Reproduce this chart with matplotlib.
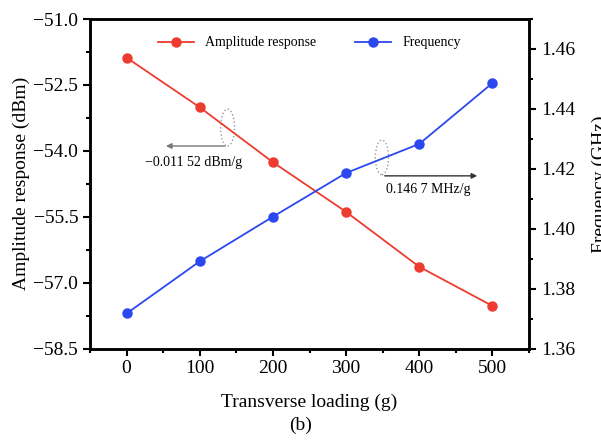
import numpy as np
import matplotlib
matplotlib.use('Agg')
import matplotlib.pyplot as plt
from matplotlib.patches import Ellipse
from matplotlib.ticker import MultipleLocator

plt.rcParams['font.family'] = ['Liberation Serif', 'DejaVu Serif']

# data
loading = [0, 100, 200, 300, 400, 500]
amplitude = [-51.88, -53.01, -54.26, -55.39, -56.64, -57.53]
frequency = [1.3717, 1.3891, 1.4040, 1.4186, 1.4283, 1.4486]

red = '#EE3B30'
blue = '#2B48EE'

fig = plt.figure(figsize=(6.01, 4.41), dpi=100)
ax = fig.add_axes([0.1498, 0.2097, 0.7304, 0.7472])
ax2 = ax.twinx()

l1, = ax.plot(loading, amplitude, '-o', color=red, lw=1.3, ms=6.5,
              label='Amplitude response')
l2, = ax2.plot(loading, frequency, '-o', color=blue, lw=1.3, ms=6.5,
               label='Frequency')

ax.set_xlim(-50, 550)
ax.set_ylim(-58.5, -51.0)
ax2.set_ylim(1.36, 1.47)

ax.xaxis.set_major_locator(MultipleLocator(100))
ax.xaxis.set_minor_locator(MultipleLocator(50))
ax.yaxis.set_major_locator(MultipleLocator(1.5))
ax.yaxis.set_minor_locator(MultipleLocator(0.75))
ax2.yaxis.set_major_locator(MultipleLocator(0.02))
ax2.yaxis.set_minor_locator(MultipleLocator(0.01))
ax2.yaxis.set_major_formatter(plt.FormatStrFormatter('%.2f'))
ax.yaxis.set_major_formatter(plt.FuncFormatter(lambda v, p: ('%.1f' % v).replace('-', '\u2212')))

for a in (ax, ax2):
    for s in a.spines.values():
        s.set_linewidth(1.8)
    a.tick_params(which='major', direction='out', length=5, width=1.5, labelsize=14)
    a.tick_params(which='minor', direction='out', length=3, width=1.5)

ax.set_xlabel('Transverse loading (g)', fontsize=14, labelpad=12)
ax.set_ylabel('Amplitude response (dBm)', fontsize=14, labelpad=2)
# the right label runs off the edge of the picture, as in the original
ax2.set_ylabel('Frequency (GHz)', fontsize=14)
ax2.yaxis.set_label_coords(1.142, 0.5)

leg = ax.legend(handles=[l1, l2], loc='upper center', ncol=2, frameon=False,
                fontsize=10, handlelength=2.6, columnspacing=2.8,
                bbox_to_anchor=(0.5, 0.985))

# slope annotations
ax.add_patch(Ellipse((138, -53.47), 19, 0.84, fill=False, ec='#999999',
                     ls=':', lw=1.0))
ax.annotate('', xy=(50, -53.89), xytext=(138, -53.89),
            arrowprops=dict(arrowstyle='-|>', color='#777777', lw=1.0,
                            mutation_scale=8))
ax.text(91, -54.26, '\u22120.011 52 dBm/g', fontsize=10, ha='center', va='center')

ax.add_patch(Ellipse((349, -54.15), 18, 0.79, fill=False, ec='#999999',
                     ls=':', lw=1.0))
ax.annotate('', xy=(483, -54.57), xytext=(349, -54.57),
            arrowprops=dict(arrowstyle='-|>', color='#333333', lw=1.0,
                            mutation_scale=8))
ax.text(412, -54.87, '0.146 7 MHz/g', fontsize=10, ha='center', va='center')

fig.text(0.5, 0.036, '(b)', fontsize=14, ha='center', va='center')

fig.savefig('out.png', dpi=100)
